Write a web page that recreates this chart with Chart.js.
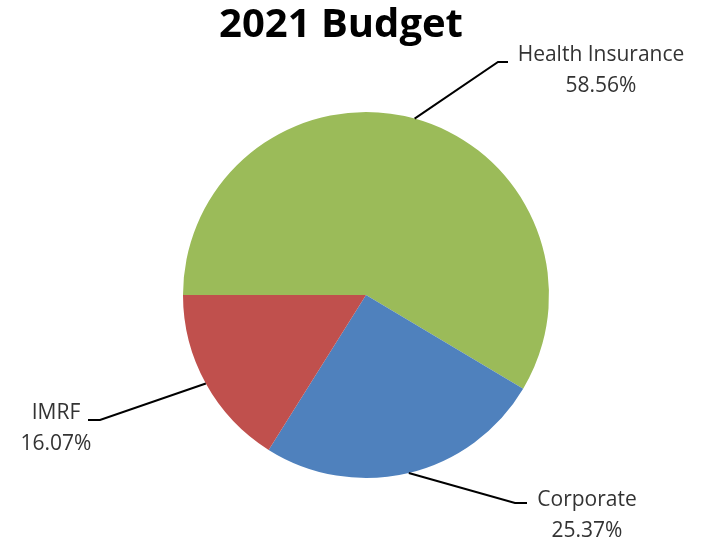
<!DOCTYPE html>
<html>
<head>
<meta charset="utf-8">
<title>2021 Budget</title>
<script src="https://cdn.jsdelivr.net/npm/chart.js@4.4.1/dist/chart.umd.min.js"></script>
<style>
  html, body { margin: 0; padding: 0; background: #ffffff; }
  #wrap { width: 701px; height: 545px; }
</style>
</head>
<body>
<div id="wrap"><canvas id="budgetChart" width="701" height="545"></canvas></div>
<script>
const chartTitle = "2021 Budget";
const categories = ["Health Insurance", "Corporate", "IMRF"];
const shares = [58.56, 25.37, 16.07];
const sliceColors = ["#9BBB59", "#4F81BD", "#C0504D"];

// where each callout sits: elbow of the leader, its end, and the text centre
const callouts = [
  { elbow: [498, 62], end: [508, 62], text: [601, 55] },
  { elbow: [515, 503], end: [527, 503], text: [587, 500] },
  { elbow: [100, 420], end: [88, 420], text: [56, 413] }
];

const LABEL_FONT = "21px 'Open Sans', Lato, sans-serif";
const LINE_GAP = 31;

// draws the title plus the leader lines and percentage labels
const calloutPlugin = {
  id: "callouts",
  afterDatasetsDraw(chart) {
    const ctx = chart.ctx;
    const arcs = chart.getDatasetMeta(0).data;
    ctx.save();

    ctx.fillStyle = "#000000";
    ctx.font = "bold 40px 'Open Sans', Lato, sans-serif";
    ctx.textAlign = "center";
    ctx.textBaseline = "middle";
    ctx.fillText(chartTitle, 341, 26);

    arcs.forEach((arc, i) => {
      const c = callouts[i];
      const mid = (arc.startAngle + arc.endAngle) / 2;
      const sx = arc.x + Math.cos(mid) * arc.outerRadius;
      const sy = arc.y + Math.sin(mid) * arc.outerRadius;

      ctx.strokeStyle = "#000000";
      ctx.lineWidth = 2;
      ctx.beginPath();
      ctx.moveTo(sx, sy);
      ctx.lineTo(c.elbow[0], c.elbow[1]);
      ctx.lineTo(c.end[0], c.end[1]);
      ctx.stroke();

      ctx.fillStyle = "#333333";
      ctx.font = LABEL_FONT;
      ctx.fillText(categories[i], c.text[0], c.text[1]);
      ctx.fillText(shares[i].toFixed(2) + "%", c.text[0], c.text[1] + LINE_GAP);
    });
    ctx.restore();
  }
};

new Chart(document.getElementById("budgetChart"), {
  type: "pie",
  data: {
    labels: categories,
    datasets: [{
      data: shares,
      backgroundColor: sliceColors,
      borderWidth: 0
    }]
  },
  options: {
    responsive: false,
    animation: false,
    rotation: 270,
    layout: { padding: { left: 183, right: 152, top: 112, bottom: 67 } },
    plugins: {
      legend: { display: false },
      title: { display: false },
      tooltip: { enabled: false }
    }
  },
  plugins: [calloutPlugin]
});
</script>
</body>
</html>
